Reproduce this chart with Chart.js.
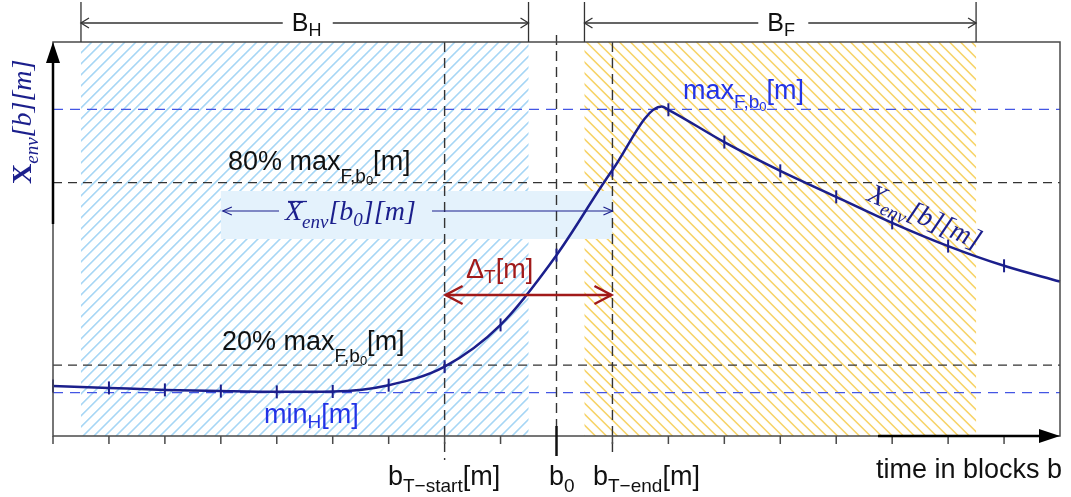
<!DOCTYPE html>
<html>
<head>
<meta charset="utf-8">
<title>Envelope over time in blocks</title>
<script src="https://cdn.jsdelivr.net/npm/chart.js"></script>
<style>
  html, body { margin: 0; padding: 0; background: #fff; }
  #wrap { width: 1071px; height: 497px; }
</style>
</head>
<body>
<div id="wrap"><canvas id="chart"></canvas></div>
<script>
// time in blocks b, and the envelope X_env[b][m] at each block
const blocks = [0, 1, 2, 3, 4, 5, 6, 7, 8, 9, 10, 10.88, 11, 12, 13, 14, 15, 16, 17, 18];
const xEnv   = [12.7, 12.2, 11.7, 11.4, 11.2, 11.3, 12.9, 17.6, 28.2, 45.9, 67.5, 83.6, 82.8, 74.6, 67.3, 60.7, 54.1, 48.2, 43.2, 39.2];
const axisTicks = [0, 1, 2, 3, 4, 5, 6, 7, 8, 9, 10, 11, 12, 13, 14, 15, 16, 17];

// windows before and after b0
const historyWindow = [0.5, 8.5];   // B_H
const futureWindow  = [9.5, 16.5];  // B_F
const b0 = 9, bTStart = 7, bTEnd = 10;

// reference levels
const maxF  = 82.9;
const pct80 = 64.3;
const pct20 = 18.0;
const minH  = 11.0;

const NAVY = '#1b1f8c';
const BLUE = '#2233e6';
const DASH_BLUE = '#4356e4';
const RED = '#a11a1a';
const SANS = '"Liberation Sans", Arial, Helvetica, sans-serif';
const SERIF = '"Liberation Serif", "Times New Roman", serif';
const BIG = '27px ' + SANS, SUB = '19px ' + SANS, SUB2 = '13px ' + SANS;

// draws a run of text pieces: [text, font, dy]
function runs(ctx, x, y, parts, color) {
  ctx.fillStyle = color;
  ctx.textAlign = 'left';
  ctx.textBaseline = 'alphabetic';
  let cx = x;
  for (const [t, font, dy] of parts) {
    ctx.font = font;
    ctx.fillText(t, cx, y + (dy || 0));
    cx += ctx.measureText(t).width;
  }
  return cx;
}

function chevron(ctx, x, y, dir, len, half) {
  ctx.beginPath();
  ctx.moveTo(x - dir * len, y - half);
  ctx.lineTo(x, y);
  ctx.lineTo(x - dir * len, y + half);
  ctx.stroke();
}

function hatch(ctx, x1, x2, top, bottom, color, rising) {
  const h = bottom - top;
  ctx.save();
  ctx.beginPath();
  ctx.rect(x1, top, x2 - x1, h);
  ctx.clip();
  ctx.strokeStyle = color;
  ctx.lineWidth = 1.6;
  ctx.beginPath();
  for (let x0 = x1 - h; x0 < x2 + h; x0 += 11) {
    if (rising) { ctx.moveTo(x0, bottom); ctx.lineTo(x0 + h, top); }
    else { ctx.moveTo(x0, top); ctx.lineTo(x0 + h, bottom); }
  }
  ctx.stroke();
  ctx.restore();
}

function hLine(ctx, area, y, color, dash) {
  ctx.save();
  ctx.strokeStyle = color;
  ctx.lineWidth = 1.4;
  ctx.setLineDash(dash);
  ctx.beginPath();
  ctx.moveTo(area.left, y);
  ctx.lineTo(area.right, y);
  ctx.stroke();
  ctx.restore();
}

function vLine(ctx, x, y1, y2, color, dash) {
  ctx.save();
  ctx.strokeStyle = color;
  ctx.lineWidth = 1.4;
  ctx.setLineDash(dash);
  ctx.beginPath();
  ctx.moveTo(x, y1);
  ctx.lineTo(x, y2);
  ctx.stroke();
  ctx.restore();
}

const sketch = {
  id: 'sketch',
  beforeDatasetsDraw(chart) {
    const { ctx, chartArea: a, scales: { x, y } } = chart;
    const px = v => x.getPixelForValue(v);
    const py = v => y.getPixelForValue(v);

    hatch(ctx, px(historyWindow[0]), px(historyWindow[1]), a.top, a.bottom, '#a6d6f5', true);
    hatch(ctx, px(futureWindow[0]), px(futureWindow[1]), a.top, a.bottom, '#f7d46a', false);

    // band behind the mean envelope label
    ctx.fillStyle = '#e4f2fc';
    ctx.fillRect(px(3), 191, px(bTEnd) - px(3), 48);

    hLine(ctx, a, py(maxF), DASH_BLUE, [10, 7]);
    hLine(ctx, a, py(pct80), '#333', [9, 6]);
    hLine(ctx, a, py(pct20), '#333', [9, 6]);
    hLine(ctx, a, py(minH), DASH_BLUE, [10, 7]);

    vLine(ctx, px(bTStart), a.top, a.bottom + 24, '#333', [10, 6]);
    vLine(ctx, px(b0), a.top - 7, a.bottom - 10, '#333', [10, 6]);
    vLine(ctx, px(bTEnd), a.top, a.bottom + 20, '#333', [10, 6]);

    // mean envelope arrow spanning the band
    const ay = 211;
    ctx.save();
    ctx.strokeStyle = NAVY;
    ctx.lineWidth = 1.2;
    ctx.beginPath();
    ctx.moveTo(px(3) + 2, ay); ctx.lineTo(279, ay);
    ctx.moveTo(432, ay); ctx.lineTo(px(bTEnd), ay);
    ctx.stroke();
    chevron(ctx, px(3) + 2, ay, -1, 9, 4);
    chevron(ctx, px(bTEnd), ay, 1, 9, 4);
    ctx.restore();
    runs(ctx, 285, 220, [
      ['X', 'italic 28px ' + SERIF],
      ['env', 'italic 19px ' + SERIF, 8],
      ['[b', 'italic 28px ' + SERIF],
      ['0', 'italic 19px ' + SERIF, 6],
      ['][m]', 'italic 28px ' + SERIF]
    ], NAVY);
    ctx.strokeStyle = NAVY;
    ctx.lineWidth = 1.3;
    ctx.beginPath();
    ctx.moveTo(288, 201.5); ctx.lineTo(307, 201.5);
    ctx.stroke();
  },
  afterDatasetsDraw(chart) {
    const { ctx, chartArea: a, scales: { x, y } } = chart;
    const px = v => x.getPixelForValue(v);

    // frame
    ctx.save();
    ctx.strokeStyle = '#4a4a4a';
    ctx.lineWidth = 1.5;
    ctx.strokeRect(a.left, a.top, a.right - a.left, a.bottom - a.top);

    // axis ticks
    ctx.beginPath();
    for (const t of axisTicks) {
      if (t === b0) continue;
      ctx.moveTo(px(t), a.bottom);
      ctx.lineTo(px(t), a.bottom + 8);
    }
    ctx.stroke();
    ctx.strokeStyle = '#111';
    ctx.lineWidth = 2.5;
    ctx.beginPath();
    ctx.moveTo(px(b0), a.bottom - 10);
    ctx.lineTo(px(b0), a.bottom + 20);
    ctx.stroke();

    // axis arrows
    ctx.fillStyle = '#000';
    ctx.strokeStyle = '#000';
    ctx.lineWidth = 2.5;
    ctx.beginPath();
    ctx.moveTo(a.left, 224); ctx.lineTo(a.left, a.top + 18);
    ctx.moveTo(878, a.bottom); ctx.lineTo(a.right - 18, a.bottom);
    ctx.stroke();
    ctx.beginPath();
    ctx.moveTo(a.left, a.top); ctx.lineTo(a.left - 7, a.top + 21); ctx.lineTo(a.left + 7, a.top + 21);
    ctx.closePath(); ctx.fill();
    ctx.beginPath();
    ctx.moveTo(a.right, a.bottom); ctx.lineTo(a.right - 21, a.bottom - 7); ctx.lineTo(a.right - 21, a.bottom + 7);
    ctx.closePath(); ctx.fill();

    // window spans above the frame
    ctx.strokeStyle = '#333';
    ctx.lineWidth = 1.3;
    const spans = [[historyWindow, 'H'], [futureWindow, 'F']];
    for (const [[s, e], sub] of spans) {
      const x1 = px(s), x2 = px(e), mid = (x1 + x2) / 2;
      ctx.beginPath();
      ctx.moveTo(x1, 2); ctx.lineTo(x1, a.top);
      ctx.moveTo(x2, 2); ctx.lineTo(x2, a.top);
      ctx.moveTo(x1, 23); ctx.lineTo(mid - 22, 23);
      ctx.moveTo(mid + 28, 23); ctx.lineTo(x2, 23);
      ctx.stroke();
      chevron(ctx, x1, 23, -1, 8, 5);
      chevron(ctx, x2, 23, 1, 8, 5);
      runs(ctx, mid - 13, 31, [['B', '25px ' + SANS], [sub, '18px ' + SANS, 5]], '#111');
    }

    // transition width arrow
    const dy = 295;
    ctx.strokeStyle = RED;
    ctx.lineWidth = 2.5;
    ctx.beginPath();
    ctx.moveTo(px(bTStart) + 1, dy); ctx.lineTo(px(bTEnd) - 1, dy);
    ctx.stroke();
    chevron(ctx, px(bTStart) + 1, dy, -1, 17, 9);
    chevron(ctx, px(bTEnd) - 1, dy, 1, 17, 9);
    ctx.restore();

    runs(ctx, 466, 278, [['\u0394', BIG], ['T', SUB, 5], ['[m]', BIG]], RED);

    // level labels
    const sub = (main, col, x0, y0, dyF, dy0) => runs(ctx, x0, y0, [
      [main, BIG], ['F,b', SUB, dyF], ['0', SUB2, dy0], ['[m]', BIG]
    ], col);
    sub('80% max', '#111', 228, 170, 12, 15);
    sub('20% max', '#111', 222, 350, 12, 15);
    sub('max', BLUE, 683, 99, 9, 12);
    runs(ctx, 264, 423, [['min', BIG], ['H', SUB, 5], ['[m]', BIG]], BLUE);

    // axis labels
    runs(ctx, 388, 485, [['b', BIG], ['T\u2212start', SUB, 7], ['[m]', BIG]], '#111');
    runs(ctx, 549, 485, [['b', BIG], ['0', SUB, 7]], '#111');
    runs(ctx, 593, 485, [['b', BIG], ['T\u2212end', SUB, 7], ['[m]', BIG]], '#111');
    runs(ctx, 876, 478, [['time in blocks b', BIG]], '#111');

    // y axis title
    ctx.save();
    ctx.translate(31, 184);
    ctx.rotate(-Math.PI / 2);
    runs(ctx, 0, 0, [
      ['X', 'bold 28px ' + SERIF],
      ['env', 'italic 19px ' + SERIF, 7],
      ['[b][m]', 'italic 28px ' + SERIF]
    ], NAVY);
    ctx.restore();

    // label along the curve
    ctx.save();
    ctx.translate(866, 200);
    ctx.rotate(24 * Math.PI / 180);
    runs(ctx, 0, 0, [
      ['X', 'italic 28px ' + SERIF],
      ['env', 'italic 19px ' + SERIF, 7],
      ['[b][m]', 'italic 28px ' + SERIF]
    ], NAVY);
    ctx.restore();
  }
};

new Chart(document.getElementById('chart'), {
  type: 'line',
  data: {
    datasets: [{
      data: blocks.map((b, i) => ({ x: b, y: xEnv[i] })),
      borderColor: NAVY,
      borderWidth: 2.5,
      cubicInterpolationMode: 'monotone',
      pointStyle: 'line',
      pointRotation: 90,
      pointRadius: c => (axisTicks.includes(blocks[c.dataIndex]) ? 6.5 : 0),
      pointBorderColor: NAVY,
      pointBorderWidth: 2,
      clip: false
    }]
  },
  options: {
    animation: false,
    responsive: true,
    maintainAspectRatio: false,
    events: [],
    layout: { padding: { left: 53, top: 42, right: 11, bottom: 61 } },
    scales: {
      x: { type: 'linear', min: 0, max: 18, display: false },
      y: { min: 0, max: 100, display: false }
    },
    plugins: { legend: { display: false }, tooltip: { enabled: false } }
  },
  plugins: [sketch]
});
</script>
</body>
</html>
